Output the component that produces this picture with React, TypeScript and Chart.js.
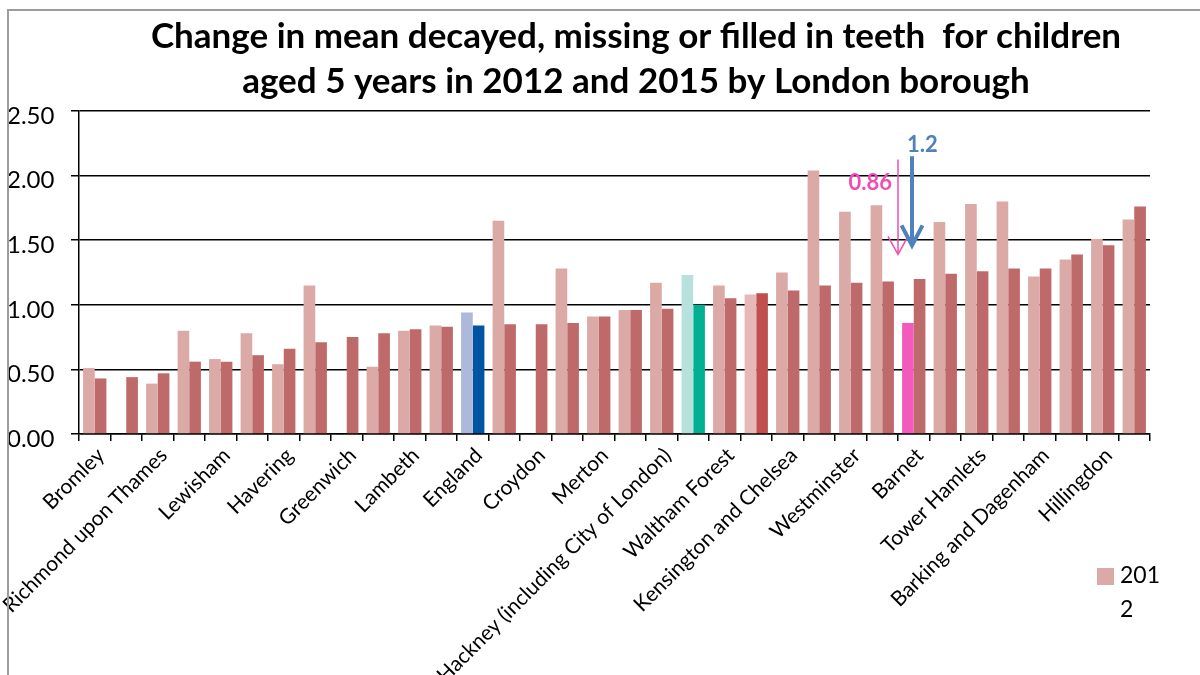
import React, { useEffect, useRef } from "react";
import { Chart, registerables } from "chart.js";

Chart.register(...registerables);

const FONT = "Lato, 'Open Sans', sans-serif";

// Boroughs ordered by the 2015 mean (ascending); every other name is shown on the axis.
const boroughs: string[] = [
  "Bromley",
  "Kingston upon Thames",
  "Richmond upon Thames",
  "Sutton",
  "Lewisham",
  "Bexley",
  "Havering",
  "Wandsworth",
  "Greenwich",
  "Southwark",
  "Lambeth",
  "Hammersmith and Fulham",
  "England",
  "Camden",
  "Croydon",
  "Islington",
  "Merton",
  "Haringey",
  "Hackney (including City of London)",
  "London",
  "Waltham Forest",
  "Hounslow",
  "Kensington and Chelsea",
  "Newham",
  "Westminster",
  "Redbridge",
  "Barnet",
  "Enfield",
  "Tower Hamlets",
  "Ealing",
  "Barking and Dagenham",
  "Harrow",
  "Hillingdon",
  "Brent",
];

const mean2012: (number | null)[] = [
  0.51, null, 0.39, 0.8, 0.58, 0.78, 0.54, 1.15, null, 0.52, 0.8, 0.84,
  0.94, 1.65, null, 1.28, 0.91, 0.96, 1.17, 1.23, 1.15, 1.08, 1.25, 2.04,
  1.72, 1.77, 0.86, 1.64, 1.78, 1.8, 1.22, 1.35, 1.51, 1.66,
];

const mean2015: number[] = [
  0.43, 0.44, 0.47, 0.56, 0.56, 0.61, 0.66, 0.71, 0.75, 0.78, 0.81, 0.83,
  0.84, 0.85, 0.85, 0.86, 0.91, 0.96, 0.97, 1.0, 1.05, 1.09, 1.11, 1.15,
  1.17, 1.18, 1.2, 1.24, 1.26, 1.28, 1.28, 1.39, 1.46, 1.76,
];

const seriesLabels = ["2012", "2015"];
const yMin = 0;
const yMax = 2.5;
const yStep = 0.5;

const titleLines = [
  "Change in mean decayed, missing or filled in teeth  for children",
  "aged 5 years in 2012 and 2015 by London borough",
];

const BASE_2012 = "#dba9a6";
const BASE_2015 = "#bf6a6a";
const accent2012: Record<string, string> = {
  England: "#aeb8da",
  London: "#b6e1dd",
  Hounslow: "#e6b8b7",
  Barnet: "#f25bbb",
};
const accent2015: Record<string, string> = {
  England: "#0055a2",
  London: "#00b093",
  Hounslow: "#c0504d",
};

// Annotated borough: arrows show the move from the 2012 value to the 2015 value.
const focusBorough = "Barnet";
const PINK = "#f04db4";
const BLUE = "#4f81bd";
const arrow2012 = { top: 2.125, tip: 1.39, label: 1.94 };
const arrow2015 = { top: 2.15, tip: 1.46, label: 2.237 };

const titlePlugin = {
  id: "titleLines",
  afterDraw(chart: any) {
    const { ctx } = chart;
    ctx.save();
    ctx.fillStyle = "#000";
    ctx.font = `bold 35px ${FONT}`;
    ctx.textAlign = "center";
    ctx.textBaseline = "alphabetic";
    ctx.fillText(titleLines[0], 636, 48);
    ctx.fillText(titleLines[1], 636, 93);
    ctx.restore();
  },
};

function drawArrow(
  ctx: CanvasRenderingContext2D,
  x: number,
  yTop: number,
  yTip: number,
  width: number,
  headHalf: number,
  headLen: number,
  colour: string
) {
  ctx.save();
  ctx.strokeStyle = colour;
  ctx.lineWidth = width;
  ctx.lineCap = "butt";
  ctx.lineJoin = "miter";
  ctx.beginPath();
  ctx.moveTo(x, yTop);
  ctx.lineTo(x, yTip - width / 2);
  ctx.stroke();
  ctx.beginPath();
  ctx.moveTo(x - headHalf, yTip - headLen);
  ctx.lineTo(x, yTip);
  ctx.lineTo(x + headHalf, yTip - headLen);
  ctx.stroke();
  ctx.restore();
}

const arrowPlugin = {
  id: "changeArrows",
  afterDatasetsDraw(chart: any) {
    const { ctx, scales } = chart;
    const x = scales.x;
    const y = scales.y;
    const i = boroughs.indexOf(focusBorough);
    const cx = x.getPixelForValue(i);
    const band = x.getPixelForValue(1) - x.getPixelForValue(0);
    const xPink = cx - band * 0.5;
    const xBlue = cx - band * 0.055;

    drawArrow(ctx, xPink, y.getPixelForValue(arrow2012.top), y.getPixelForValue(arrow2012.tip), 1.5, 10, 18, PINK);
    drawArrow(ctx, xBlue, y.getPixelForValue(arrow2015.top), y.getPixelForValue(arrow2015.tip), 4, 10.5, 20, BLUE);

    ctx.save();
    ctx.font = `bold 22px ${FONT}`;
    ctx.textBaseline = "middle";
    ctx.fillStyle = PINK;
    ctx.textAlign = "right";
    ctx.fillText(String(mean2012[i]), xPink - 6, y.getPixelForValue(arrow2012.label));
    ctx.fillStyle = BLUE;
    ctx.textAlign = "left";
    ctx.fillText(String(mean2015[i]), xBlue - 5, y.getPixelForValue(arrow2015.label));
    ctx.restore();
  },
};

export default function App() {
  const canvasRef = useRef<HTMLCanvasElement | null>(null);

  useEffect(() => {
    const canvas = canvasRef.current;
    if (!canvas) return;

    const chart = new Chart(canvas, {
      type: "bar",
      data: {
        labels: boroughs,
        datasets: [
          {
            label: seriesLabels[0],
            data: mean2012,
            backgroundColor: boroughs.map((b) => accent2012[b] ?? BASE_2012),
            borderWidth: 0,
            categoryPercentage: 0.74,
            barPercentage: 1,
          },
          {
            label: seriesLabels[1],
            data: mean2015,
            backgroundColor: boroughs.map((b) => accent2015[b] ?? BASE_2015),
            borderWidth: 0,
            categoryPercentage: 0.74,
            barPercentage: 1,
          },
        ],
      },
      options: {
        responsive: false,
        animation: false,
        devicePixelRatio: 1,
        layout: { padding: { left: 7, right: 50, top: 111, bottom: 0 } },
        plugins: {
          legend: { display: false },
          title: { display: false },
          tooltip: { enabled: false },
        },
        scales: {
          x: {
            afterFit: (scale: any) => {
              scale.height = 241;
            },
            grid: {
              offset: true,
              drawOnChartArea: false,
              drawTicks: true,
              tickLength: 7,
              color: "#000",
              lineWidth: 1.5,
            },
            border: { display: true, color: "#000", width: 1.5 },
            ticks: {
              autoSkip: false,
              minRotation: 45,
              maxRotation: 45,
              padding: 2,
              labelOffset: 6,
              color: "#000",
              font: { family: FONT, size: 21 },
              callback: (_v: any, idx: number) => (idx % 2 === 0 ? boroughs[idx] : ""),
            },
          },
          y: {
            min: yMin,
            max: yMax,
            afterFit: (scale: any) => {
              scale.width = 72;
            },
            grid: {
              color: "#000",
              lineWidth: 1.5,
              tickLength: 8,
              drawTicks: true,
            },
            border: { display: true, color: "#000", width: 1.5 },
            ticks: {
              stepSize: yStep,
              crossAlign: "far",
              labelOffset: 5,
              color: "#000",
              font: { family: FONT, size: 24 },
              callback: (v: any) => Number(v).toFixed(2),
            },
          },
        },
      },
      plugins: [titlePlugin, arrowPlugin],
    });

    return () => chart.destroy();
  }, []);

  return (
    <div style={{ position: "absolute", left: 0, top: 0, width: 1200, height: 675, overflow: "hidden", background: "#fff" }}>
      <canvas ref={canvasRef} width={1200} height={675} style={{ position: "absolute", left: 0, top: 0 }} />
      <div
        style={{
          position: "absolute",
          left: 7,
          top: 9,
          width: 1300,
          height: 800,
          borderLeft: "2px solid #9c9c9c",
          borderTop: "2px solid #9c9c9c",
          pointerEvents: "none",
        }}
      />
      <div style={{ position: "absolute", left: 1097, top: 568, width: 17, height: 17, background: BASE_2012 }} />
      <div
        style={{
          position: "absolute",
          left: 1120,
          top: 557,
          width: 44,
          fontFamily: FONT,
          fontSize: 23,
          lineHeight: "34px",
          color: "#000",
          wordBreak: "break-all",
        }}
      >
        {seriesLabels[0]}
      </div>
    </div>
  );
}
